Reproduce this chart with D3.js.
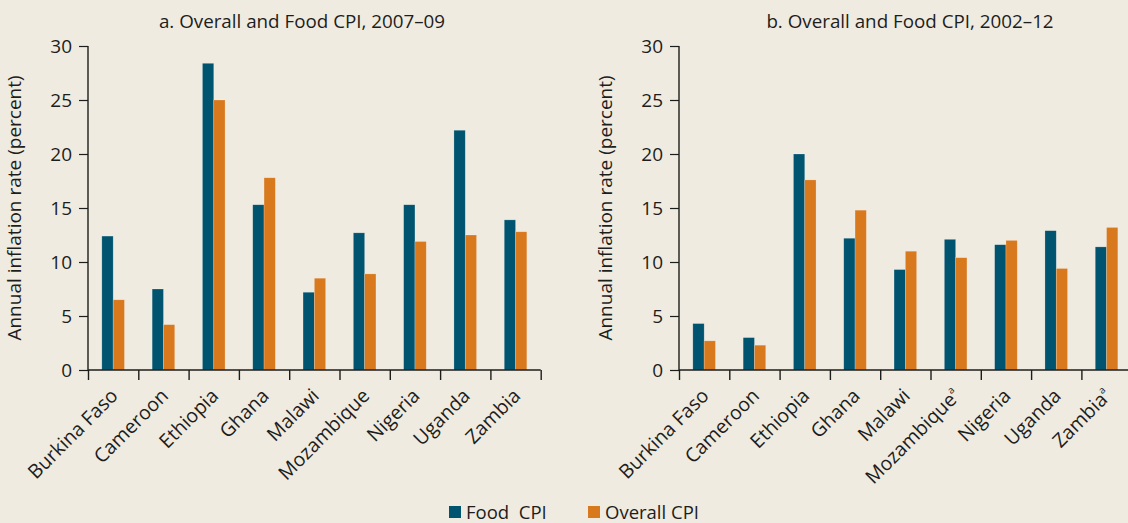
<!DOCTYPE html>
<html>
<head>
<meta charset="utf-8">
<script src="https://cdn.jsdelivr.net/npm/d3@7"></script>
<style>
  body { margin: 0; background: #efebe1; }
  svg { display: block; font-family: "Open Sans", "Noto Sans", sans-serif; }
</style>
</head>
<body>
<div id="chart"></div>
<script>
var countries = ["Burkina Faso", "Cameroon", "Ethiopia", "Ghana", "Malawi", "Mozambique", "Nigeria", "Uganda", "Zambia"];
// panel b marks two countries with a footnote "a"
var footnoted = ["Mozambique", "Zambia"];

var food0709 = [12.4, 7.5, 28.4, 15.3, 7.2, 12.7, 15.3, 22.2, 13.9];
var overall0709 = [6.5, 4.2, 25.0, 17.8, 8.5, 8.9, 11.9, 12.5, 12.8];

var food0212 = [4.3, 3.0, 20.0, 12.2, 9.3, 12.1, 11.6, 12.9, 11.4];
var overall0212 = [2.7, 2.3, 17.6, 14.8, 11.0, 10.4, 12.0, 9.4, 13.2];

var yTicks = [0, 5, 10, 15, 20, 25, 30];
var seriesNames = ["Food  CPI", "Overall CPI"];
var colors = ["#00546f", "#d8791e"];
var ink = "#1d1d1b";

var width = 1128, height = 523;

var svg = d3.select("#chart").append("svg")
  .attr("width", width)
  .attr("height", height);

svg.append("rect").attr("width", width).attr("height", height).attr("fill", "#efebe1");

var drawPanel = function (left, titleX, title, food, overall, marks) {
  var bandW = 50.3;
  var x = d3.scaleBand().domain(countries).range([left, left + bandW * countries.length]);
  var xEdge = d3.scaleLinear().domain([0, countries.length]).range([left, left + bandW * countries.length]);
  var y = d3.scaleLinear().domain([0, 30]).range([370, 46]);
  var barW = 11.3;

  var g = svg.append("g");

  // bars
  var rows = countries.map(function (c, i) { return { c: c, v: [food[i], overall[i]] }; });
  rows.forEach(function (r) {
    g.selectAll(null).data(r.v).enter().append("rect")
      .attr("x", function (d, k) { return x(r.c) + x.bandwidth() / 2 - barW + k * barW; })
      .attr("y", function (d) { return y(d); })
      .attr("width", barW)
      .attr("height", function (d) { return y(0) - y(d); })
      .attr("fill", function (d, k) { return colors[k]; })
      .attr("stroke", "rgba(255,255,255,0.35)")
      .attr("stroke-width", 0.6);
  });

  // y axis
  var yAxis = g.append("g")
    .attr("transform", "translate(" + left + ",0)")
    .call(d3.axisLeft(y).tickValues(yTicks).tickSize(9).tickPadding(7));
  yAxis.select(".domain").attr("stroke", ink).attr("stroke-width", 1.4).attr("d", "M0," + y(30) + "V" + y(0));
  yAxis.selectAll(".tick line").attr("stroke", ink).attr("stroke-width", 1.2);
  yAxis.selectAll("text").attr("font-size", 19).attr("fill", ink).attr("font-family", "Open Sans");

  // x axis: ticks on the category edges
  var xAxis = g.append("g")
    .attr("transform", "translate(0," + y(0) + ")")
    .call(d3.axisBottom(xEdge).tickValues(d3.range(countries.length + 1)).tickSize(10).tickFormat(""));
  xAxis.select(".domain").attr("stroke", ink).attr("stroke-width", 1.4)
    .attr("d", "M" + xEdge(0) + ",0H" + xEdge(countries.length));
  xAxis.selectAll(".tick line").attr("stroke", ink).attr("stroke-width", 1.4);

  // category labels
  var lab = g.selectAll(".cat").data(countries).enter().append("text")
    .attr("class", "cat")
    .attr("text-anchor", "end")
    .attr("font-size", 19.5)
    .attr("fill", ink)
    .attr("transform", function (d) {
      return "translate(" + (x(d) + x.bandwidth() / 2 + 6) + "," + (y(0) + 27) + ") rotate(-45)";
    });
  lab.append("tspan").text(function (d) { return d; });
  lab.filter(function (d) { return marks && footnoted.indexOf(d) >= 0; })
    .append("tspan").attr("font-size", 10).attr("dy", -9).text("a");

  // y label
  g.append("text")
    .attr("transform", "translate(" + (left - 67) + ",208) rotate(-90)")
    .attr("text-anchor", "middle")
    .attr("font-size", 19)
    .attr("fill", ink)
    .text("Annual inflation rate (percent)");

  // title
  g.append("text")
    .attr("x", titleX)
    .attr("y", 28)
    .attr("text-anchor", "middle")
    .attr("font-size", 18.8)
    .attr("fill", ink)
    .text(title);
};

drawPanel(88, 302, "a. Overall and Food CPI, 2007\u201309", food0709, overall0709, false);
drawPanel(679, 910, "b. Overall and Food CPI, 2002\u201312", food0212, overall0212, true);

// legend
var legX = [449, 588];
var leg = svg.selectAll(".leg").data(seriesNames).enter().append("g")
  .attr("transform", function (d, i) { return "translate(" + legX[i] + ",506)"; });
leg.append("rect").attr("width", 12).attr("height", 12).attr("fill", function (d, i) { return colors[i]; });
leg.append("text").attr("x", 17).attr("y", 12.5).attr("font-size", 18.5).attr("fill", ink)
  .attr("xml:space", "preserve").style("white-space", "pre").text(function (d) { return d; });
</script>
</body>
</html>
